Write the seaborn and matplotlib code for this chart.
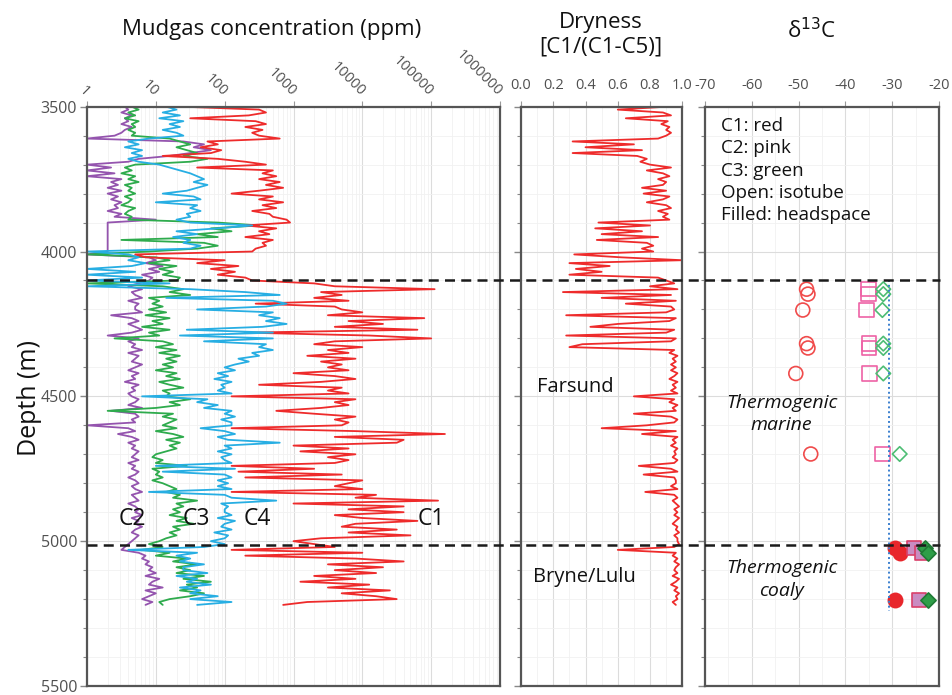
import numpy as np
import pandas as pd
import matplotlib
matplotlib.use("Agg")
import matplotlib.pyplot as plt
import matplotlib.transforms as mtransforms
from matplotlib.lines import Line2D
from matplotlib.ticker import MultipleLocator, FixedLocator, LogLocator, NullFormatter
import seaborn as sns

# ---------------- data ----------------
# mudgas log sampled every 10 m from 3500 m to 5220 m; values are log10(ppm)
depth = np.arange(3500, 5230, 10)

c1_log10 = [
    1.4, 2.5, 2.6, 2.35, 1.5, 2.45, 2.6, 2.3, 2.55, 2.4,
    2.5, 2.8, 1.75, 1.9, 1.65, 1.95, 1.8, 1.1, 1.9, 2.3,
    2.6, 1.6, 2.7, 2.55, 2.75, 2.5, 2.8, 2.6, 2.85, 2.5,
    2.1, 2.7, 2.5, 2.85, 2.55, 2.75, 2.4, 2.65, 2.7, 2.9,
    2.95, 2.3, 2.75, 2.5, 2.65, 2.3, 2.7, 2.55, 2.6, 2.45,
    2.4, 0.7, 0.85, 2.0, 1.6, 2.2, 1.8, 2.15, 1.9, 2.3,
    2.4, 3.3, 3.6, 5.05, 3.4, 3.7, 3.3, 3.8, 2.45, 3.6,
    3.7, 4.0, 3.5, 4.9, 3.8, 4.3, 3.6, 4.8, 2.3, 4.1,
    5.0, 3.6, 3.3, 4.0, 3.5, 3.8, 3.2, 3.9, 3.4, 3.7,
    3.5, 3.8, 3.0, 3.6, 3.9, 3.4, 2.5, 3.7, 3.5, 3.8,
    2.1, 3.9, 3.6, 3.8, 3.4, 2.75, 3.3, 3.9, 3.6, 3.8,
    3.7, 2.1, 3.9, 5.2, 3.6, 4.6, 4.5, 3.0, 3.8, 3.1,
    3.9, 3.5, 3.8, 3.6, 2.1, 3.3, 2.2, 3.7, 2.3, 4.0,
    3.8, 3.6, 4.0, 2.1, 4.2, 3.9, 5.1, 3.0, 4.6, 3.8,
    4.6, 3.6, 4.0, 4.8, 3.9, 3.7, 4.5, 3.8, 4.7, 3.4,
    3.0, 3.3, 3.6, 2.1, 4.0, 2.3, 3.9, 4.6, 3.5, 4.3,
    3.6, 4.2, 3.3, 3.9, 3.1, 4.1, 3.5, 4.4, 3.7, 4.2,
    4.5, 3.2, 2.85,
]
c2_log10 = [
    0.55, 0.6, 0.5, 0.65, 0.55, 0.6, 0.5, 0.65, 0.55, 0.5,
    0.4, 0.0, 1.4, 1.7, 1.55, 1.8, 1.5, 1.2, 0.75, 0.6,
    0.0, 0.35, 0.0, 0.4, 0.0, 0.5, 0.35, 0.45, 0.3, 0.5,
    0.3, 0.45, 0.35, 0.5, 0.4, 0.45, 0.3, 0.5, 0.4, 1.0,
    0.3, 0.3, 0.3, 0.3, 0.3, 0.3, 0.3, 0.3, 0.3, 0.3,
    0.3, 0.0, 0.9, 1.0, 0.85, 1.1, 0.9, 1.05, 0.8, 0.95,
    0.9, 0.75, 0.6, 0.8, 0.65, 0.7, 0.8, 0.6, 0.75, 0.7,
    0.7, 0.8, 0.35, 0.65, 0.75, 0.6, 0.7, 0.8, 0.65, 0.3,
    0.75, 0.6, 0.7, 0.65, 0.8, 0.6, 0.75, 0.7, 0.65, 0.8,
    0.7, 0.6, 0.75, 0.65, 0.7, 0.55, 0.75, 0.65, 0.7, 0.6,
    0.65, 0.75, 0.7, 0.6, 0.8, 0.35, 0.7, 0.75, 0.65, 0.7,
    0.0, 0.6, 0.7, 0.45, 0.65, 0.75, 0.6, 0.7, 0.65, 0.75,
    0.7, 0.65, 0.75, 0.6, 0.7, 0.65, 0.75, 0.7, 0.6, 0.7,
    0.75, 0.65, 0.7, 0.8, 0.65, 0.7, 0.75, 0.6, 0.7, 0.75,
    0.7, 0.8, 0.65, 0.75, 0.7, 0.8, 0.7, 0.65, 0.75, 0.7,
    0.65, 0.6, 0.55, 0.5, 0.75, 0.85, 0.8, 0.9, 0.85, 0.95,
    0.9, 1.0, 0.85, 1.05, 0.95, 0.9, 1.1, 0.85, 1.0, 0.9,
    0.8, 0.95, 0.85,
]
c3_log10 = [
    0.65, 0.75, 0.6, 0.7, 0.55, 0.75, 0.65, 0.7, 0.6, 0.7,
    0.65, 1.2, 1.35, 1.5, 1.3, 1.45, 1.6, 1.4, 1.75, 1.5,
    0.7, 0.55, 0.65, 0.5, 0.7, 0.6, 0.75, 0.55, 0.65, 0.6,
    0.7, 0.55, 0.65, 0.6, 0.5, 0.7, 0.6, 0.55, 0.65, 0.6,
    1.9, 2.5, 1.8, 2.1, 1.6, 1.9, 0.5, 1.7, 1.9, 1.6,
    0.9, 0.0, 1.0, 1.2, 0.9, 1.3, 1.05, 1.25, 1.1, 1.35,
    1.3, 0.0, 1.1, 1.4, 1.2, 1.5, 0.9, 1.05, 0.95, 1.1,
    0.9, 1.15, 0.85, 1.2, 0.95, 1.1, 0.8, 1.2, 0.9, 1.05,
    0.4, 1.1, 1.25, 1.0, 1.3, 1.05, 1.35, 1.15, 1.3, 1.1,
    1.25, 1.0, 1.3, 1.15, 1.35, 1.05, 1.2, 1.4, 1.1, 1.2,
    1.15, 1.5, 1.2, 1.35, 1.0, 0.3, 1.25, 1.1, 1.3, 1.2,
    1.1, 1.3, 1.0, 1.25, 1.4, 1.15, 1.35, 1.2, 1.3, 1.15,
    1.0, 0.95, 1.1, 1.0, 1.45, 0.95, 1.05, 1.0, 1.1, 0.95,
    1.1, 1.2, 1.3, 1.15, 1.35, 1.25, 1.6, 1.3, 1.4, 1.25,
    1.35, 1.2, 1.45, 1.3, 1.55, 1.25, 1.35, 1.2, 1.3, 1.15,
    1.05, 0.9, 1.1, 0.8, 1.2, 1.0, 1.45, 1.25, 1.6, 1.3,
    1.5, 1.3, 1.7, 1.4, 1.8, 1.45, 1.6, 1.35, 1.7, 1.5,
    1.2, 1.05, 1.1,
]
c4_log10 = [
    1.15, 1.3, 1.1, 1.35, 1.05, 1.4, 1.2, 1.35, 1.1, 1.3,
    1.4, 0.9, 0.6, 0.75, 0.55, 0.8, 0.65, 0.8, 0.6, 0.75,
    1.05, 1.2, 1.35, 1.5, 1.6, 1.7, 1.55, 1.75, 1.6, 1.45,
    1.1, 1.55, 1.65, 1.0, 1.6, 1.5, 1.65, 1.45, 1.5, 1.3,
    1.5, 2.4, 1.9, 1.3, 1.6, 1.25, 1.5, 1.4, 1.65, 1.5,
    0.0, 0.6, 0.75, 0.6, 0.85, 0.65, 0.0, 0.7, 0.0, 0.8,
    0.0, 1.2, 0.0, 1.5, 2.3, 2.8, 1.15, 2.7, 2.9, 2.6,
    1.6, 2.7, 2.5, 2.8, 2.6, 2.9, 2.55, 1.45, 2.7, 1.35,
    2.7, 1.7, 2.6, 2.5, 2.7, 2.4, 2.5, 2.2, 2.35, 2.15,
    2.0, 2.15, 1.9, 2.05, 1.85, 2.1, 1.95, 2.0, 1.9, 2.1,
    0.8, 1.75, 1.6, 1.9, 1.7, 2.1, 2.0, 2.15, 1.95, 2.1,
    2.1, 1.65, 2.0, 2.15, 1.9, 2.05, 2.8, 2.0, 2.1, 1.9,
    2.1, 1.95, 2.0, 2.1, 1.0, 2.15, 1.1, 2.0, 2.1, 1.9,
    2.05, 1.9, 2.1, 0.9, 2.0, 2.1, 2.75, 1.95, 2.05, 2.0,
    2.0, 2.1, 1.9, 2.15, 2.0, 1.95, 2.1, 1.85, 2.05, 2.0,
    1.8, 2.0, 1.7, 0.6, 1.6, 1.3, 1.5, 1.35, 1.7, 1.4,
    1.4, 1.75, 1.3, 1.6, 1.45, 1.8, 1.35, 1.65, 1.5, 1.9,
    1.5, 2.1, 1.6,
]
dryness = [
    0.9, 0.6, 0.88, 0.93, 0.65, 0.91, 0.87, 0.92, 0.9, 0.93,
    0.9, 0.85, 0.32, 0.7, 0.4, 0.75, 0.32, 0.72, 0.78, 0.74,
    0.8, 0.93, 0.78, 0.88, 0.92, 0.85, 0.9, 0.88, 0.75, 0.9,
    0.76, 0.92, 0.88, 0.78, 0.9, 0.93, 0.85, 0.91, 0.88, 0.92,
    0.48, 0.8, 0.46, 0.75, 0.5, 0.85, 0.47, 0.78, 0.82, 0.75,
    0.82, 0.33, 0.62, 1.0, 0.3, 0.55, 0.34, 0.5, 0.3, 0.85,
    0.9, 0.95, 0.8, 0.97, 0.26, 0.93, 0.5, 0.96, 0.65, 0.93,
    0.95, 0.9, 0.28, 0.96, 0.92, 0.6, 0.43, 0.95, 0.9, 0.28,
    0.96, 0.93, 0.38, 0.3, 0.95, 0.92, 0.97, 0.94, 0.96, 0.93,
    0.96, 0.93, 0.97, 0.95, 0.92, 0.97, 0.94, 0.96, 0.93, 0.97,
    0.7, 0.95, 0.92, 0.97, 0.94, 0.96, 0.7, 0.93, 0.97, 0.95,
    0.78, 0.5, 0.96, 0.75, 0.97, 0.94, 0.96, 0.93, 0.97, 0.95,
    0.96, 0.94, 0.97, 0.95, 0.73, 0.93, 0.97, 0.76, 0.95, 0.96,
    0.96, 0.93, 0.97, 0.77, 0.95, 0.97, 0.94, 0.96, 0.98, 0.95,
    0.97, 0.95, 0.98, 0.96, 0.94, 0.97, 0.96, 0.98, 0.95, 0.97,
    0.97, 0.98, 0.95, 0.6, 0.96, 0.94, 0.97, 0.95, 0.98, 0.96,
    0.95, 0.97, 0.94, 0.98, 0.96, 0.93, 0.97, 0.95, 0.98, 0.96,
    0.97, 0.94, 0.96,
]

# carbon isotopes (per mil)
iso_open_depth = [4130, 4147, 4202, 4318, 4333, 4421, 4699]
c1_isotube = [-48.3, -48.0, -49.1, -48.3, -48.0, -50.6, -47.4]
c2_isotube = [-35.1, -35.1, -35.5, -35.0, -35.0, -34.9, -32.1]
c3_isotube = [-31.9, -31.9, -32.1, -31.9, -31.9, -31.9, -28.4]
iso_hs_depth = [5024, 5041, 5202]
c1_headspace = [-29.3, -28.4, -29.3]
c2_headspace = [-25.4, -23.7, -24.3]
c3_headspace = [-23.0, -22.4, -22.4]

ref_line_value = -30.7
ref_line_depth = [4100, 5240]
boundary_depths = [4100, 5014]

gas_labels = ["C1", "C2", "C3", "C4"]
x_log_ticks = [1, 10, 100, 1000, 10000, 100000, 1000000]
x_log_ticklabels = ["1", "10", "100", "1000", "10000", "100000", "1000000"]

# ---------------- style ----------------
sns.set_theme(style="white")
plt.rcParams["font.family"] = ["Open Sans", "DejaVu Sans"]

RED = "#EE2B2B"
BLUE = "#27AEE3"
GREEN = "#2EAB4D"
PURPLE = "#9454AE"
FRAME = "#555555"
TICKC = "#505050"

fig = plt.figure(figsize=(9.52, 6.95), dpi=100)
W, H = 952.0, 695.0
top_px, bot_px = 106.7, 686.0
ay = (H - bot_px) / H
ah = (bot_px - top_px) / H
ax1 = fig.add_axes([87 / W, ay, 413 / W, ah])
ax2 = fig.add_axes([521 / W, ay, 161.3 / W, ah])
ax3 = fig.add_axes([705 / W, ay, 234 / W, ah])

# ---------------- mudgas panel ----------------
gas = pd.DataFrame({
    "depth": np.concatenate([depth] * 4),
    "ppm": np.concatenate([10 ** np.array(c2_log10), 10 ** np.array(c3_log10),
                           10 ** np.array(c1_log10), 10 ** np.array(c4_log10)]),
    "gas": ["C2"] * len(depth) + ["C3"] * len(depth) + ["C1"] * len(depth) + ["C4"] * len(depth),
})
pal = {"C1": RED, "C2": PURPLE, "C3": GREEN, "C4": BLUE}
ax1.set_xscale("log")
sns.lineplot(data=gas, x="ppm", y="depth", hue="gas", hue_order=["C2", "C3", "C1", "C4"],
             palette=pal, orient="y", estimator=None, sort=True, lw=1.3,
             legend=False, ax=ax1)
ax1.set_xlim(1, 1e6)

# ---------------- dryness panel ----------------
dry = pd.DataFrame({"depth": depth, "dryness": dryness})
sns.lineplot(data=dry, x="dryness", y="depth", orient="y", estimator=None, sort=True,
             color=RED, lw=1.3, ax=ax2)
ax2.set_xlim(0, 1.0)

# ---------------- isotope panel ----------------
iso_open = pd.DataFrame({"depth": iso_open_depth * 3,
                         "d13C": c1_isotube + c2_isotube + c3_isotube,
                         "comp": ["C1"] * 7 + ["C2"] * 7 + ["C3"] * 7})
iso_hs = pd.DataFrame({"depth": iso_hs_depth * 3,
                       "d13C": c1_headspace + c2_headspace + c3_headspace,
                       "comp": ["C1"] * 3 + ["C2"] * 3 + ["C3"] * 3})
sns.lineplot(x=[ref_line_value, ref_line_value], y=ref_line_depth, orient="y",
             color="#3A7FCF", lw=1.4, linestyle=(0, (1, 1.5)), ax=ax3)
open_style = {"C1": ("o", "#F04B4B", 100), "C2": ("s", "#EE62A6", 110), "C3": ("D", "#4DBD74", 55)}
for comp, (mk, col, s) in open_style.items():
    sub = iso_open[iso_open.comp == comp]
    sns.scatterplot(data=sub, x="d13C", y="depth", marker=mk, s=s, facecolor="none",
                    edgecolor=col, linewidth=1.2, ax=ax3, legend=False)
hs_style = {"C1": ("o", "#E8262B", "#E8262B", 105), "C2": ("s", "#C98CC2", "#D9406A", 115),
            "C3": ("D", "#2E9E48", "#1F7A35", 60)}
for comp, (mk, fc, ec, s) in hs_style.items():
    sub = iso_hs[iso_hs.comp == comp]
    sns.scatterplot(data=sub, x="d13C", y="depth", marker=mk, s=s, color=fc,
                    edgecolor=ec, linewidth=1.2, ax=ax3, legend=False)
ax3.set_xlim(-70, -20)

# ---------------- common axes styling ----------------
for ax in (ax1, ax2, ax3):
    ax.set_ylim(5500, 3500)
    ax.set_xlabel("")
    ax.set_ylabel("")
    ax.yaxis.set_major_locator(MultipleLocator(500))
    ax.yaxis.set_minor_locator(MultipleLocator(100))
    ax.xaxis.tick_top()
    ax.xaxis.set_label_position("top")
    for sp in ax.spines.values():
        sp.set_color(FRAME)
        sp.set_linewidth(1.6)
    ax.tick_params(axis="y", which="major", left=True, length=5, width=1, color="#888888",
                   labelsize=11.5, labelcolor=TICKC, pad=2)
    ax.tick_params(axis="y", which="minor", left=True, length=3, width=0.8, color="#888888")
    ax.tick_params(axis="x", which="major", top=True, bottom=False, length=4, width=0.8,
                   color="#999999", labelsize=10, labelcolor=TICKC, pad=2)
    ax.tick_params(axis="x", which="minor", top=False, bottom=False)
    ax.grid(True, which="major", color="#dcdcdc", lw=0.8)
    ax.grid(True, which="minor", color="#f1f1f1", lw=0.6)
    ax.set_axisbelow(True)

ax1.xaxis.set_major_locator(FixedLocator(x_log_ticks))
ax1.xaxis.set_minor_locator(LogLocator(base=10, subs=np.arange(2, 10)))
ax1.xaxis.set_minor_formatter(NullFormatter())
ax1.set_xticks(x_log_ticks)
ax1.set_xticklabels(x_log_ticklabels)
for lab in ax1.get_xticklabels():
    lab.set_rotation(-45)
    lab.set_rotation_mode("anchor")
    lab.set_ha("right")
    lab.set_va("center")
    lab.set_fontsize(10.5)
ax1.tick_params(axis="x", which="major", pad=5)

ax2.xaxis.set_major_locator(MultipleLocator(0.2))
ax2.xaxis.set_minor_locator(MultipleLocator(0.1))
ax2.xaxis.set_major_formatter(plt.FuncFormatter(lambda v, p: f"{v:.1f}"))
ax3.xaxis.set_major_locator(MultipleLocator(10))
ax3.xaxis.set_minor_locator(MultipleLocator(5))
ax3.xaxis.set_major_formatter(plt.FuncFormatter(lambda v, p: f"{v:.0f}"))
for ax in (ax2, ax3):
    ax.tick_params(axis="y", labelleft=False)
    ax.tick_params(axis="x", which="major", labelsize=10.5, pad=6)

ax1.yaxis.set_major_formatter(plt.FuncFormatter(lambda v, p: f"{v:.0f}"))

# ---------------- annotations ----------------
fig.text(272 / W, 1 - 30 / H, "Mudgas concentration (ppm)", ha="center", va="center",
         fontsize=16, color="#111111")
fig.text(601 / W, 1 - 35 / H, "Dryness\n[C1/(C1-C5)]", ha="center", va="center",
         fontsize=16, color="#111111", linespacing=1.2)
fig.text(812 / W, 1 - 31 / H, r"δ$^{13}$C", ha="center", va="center",
         fontsize=16, color="#111111")
fig.text(30 / W, 1 - 398 / H, "Depth (m)", ha="center", va="center", rotation=90,
         fontsize=18, color="#111111")

lab_pos = {"C2": 4.5, "C3": 39, "C4": 300, "C1": 1.0e5}
for g in gas_labels:
    ax1.text(lab_pos[g], 4922, g, ha="center", va="center", fontsize=16.5, color="#111111")

ax2.text(0.335, 4467, "Farsund", ha="center", va="center", fontsize=14.5, color="#111111")
ax2.text(0.39, 5125, "Bryne/Lulu", ha="center", va="center", fontsize=14.5, color="#111111")

ax3.text(-66.5, 3536, "C1: red\nC2: pink\nC3: green\nOpen: isotube\nFilled: headspace",
         ha="left", va="top", fontsize=13.5, color="#111111", linespacing=1.3)
ax3.text(-53.6, 4562, "Thermogenic\nmarine", ha="center", va="center", fontsize=14,
         style="italic", color="#111111", linespacing=1.3)
ax3.text(-53.6, 5132, "Thermogenic\ncoaly", ha="center", va="center", fontsize=14,
         style="italic", color="#111111", linespacing=1.3)

# boundary dashed lines across all panels
trans = mtransforms.blended_transform_factory(fig.transFigure, ax1.transData)
for d in boundary_depths:
    fig.add_artist(Line2D([87 / W, 940 / W], [d, d], transform=trans, color="#1a1a1a",
                          lw=1.8, linestyle=(0, (4, 2.5)), zorder=10))

fig.savefig("out.png", dpi=100)
